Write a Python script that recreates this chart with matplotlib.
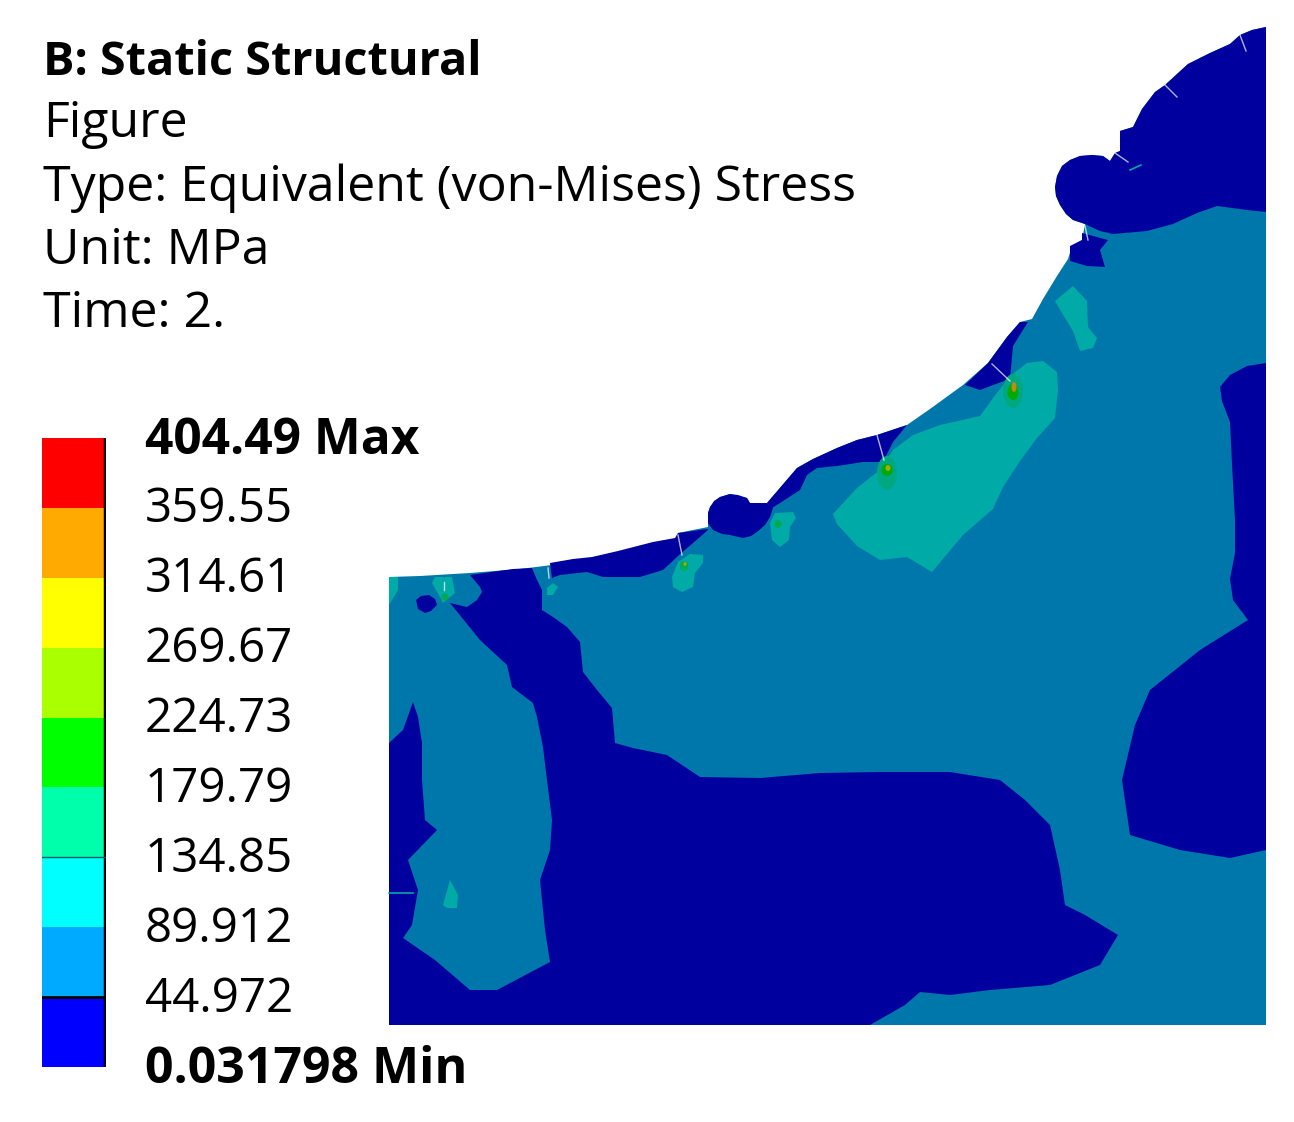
import matplotlib
matplotlib.use("Agg")
import matplotlib.pyplot as plt
from matplotlib.patches import Ellipse

plt.rcParams['font.family'] = ['Open Sans', 'DejaVu Sans']

# texts
header_bold = "B: Static Structural"
header_lines = ["Figure", "Type: Equivalent (von-Mises) Stress", "Unit: MPa", "Time: 2."]
level_labels = ["404.49 Max", "359.55", "314.61", "269.67", "224.73", "179.79",
                "134.85", "89.912", "44.972", "0.031798 Min"]
level_colors = ["#FF0000", "#FFAA00", "#FFFF00", "#AAFF00", "#00FF00",
                "#00FFAA", "#00FFFF", "#00AAFF", "#0000FF"]

# colours of the contour, dimmed like the ansys shading
c_mid = "#0077AA"
c_low = "#00009F"
c_teal = "#00AAA6"

# all shapes, in pixels
head_edge = [(1085, 224), (1073, 220), (1066, 214), (1060, 205), (1056, 196), (1055, 187),
             (1057, 176), (1062, 166), (1070, 160), (1080, 156), (1092, 155), (1103, 156),
             (1110, 161), (1115, 153), (1120, 151), (1120, 131), (1133, 127), (1142, 109),
             (1155, 92), (1165, 85), (1188, 64), (1210, 53), (1230, 44), (1240, 35), (1252, 30),
             (1266, 27)]

body = [(389, 577), (420, 576), (470, 573), (520, 569), (560, 564), (600, 557), (640, 549),
        (676, 540), (678, 533), (708, 527), (708, 513), (710, 507), (720, 497), (730, 494),
        (747, 498), (750, 503), (767, 503), (797, 468), (813, 459), (837, 448), (857, 440),
        (877, 435), (907, 425), (930, 409), (963, 385), (988, 363), (1007, 337), (1020, 322),
        (1032, 319), (1043, 299), (1057, 276), (1068, 259), (1072, 246), (1082, 240)] + head_edge + [
        (1266, 1025), (389, 1025)]

top_low = head_edge + [(1266, 212), (1247, 210), (1217, 206), (1197, 213), (1173, 224),
                       (1147, 231), (1113, 234), (1100, 231), (1087, 225)]
neck_low = [(1082, 233), (1108, 240), (1100, 250), (1105, 267), (1087, 266), (1070, 261),
            (1070, 246), (1082, 240)]
sliver_low = [(1020, 322), (1028, 322), (1013, 346), (1010, 379), (993, 385), (980, 390),
              (965, 385), (988, 363), (1007, 337)]
band_low = [(907, 425), (893, 442), (883, 462), (863, 462), (837, 466), (817, 468),
            (807, 475), (800, 490), (780, 503), (772, 508), (767, 503), (797, 468),
            (813, 459), (837, 448), (857, 440), (877, 435)]
blob_low = [(708, 513), (708, 523), (713, 530), (722, 534), (730, 535), (743, 538), (751, 536),
            (757, 532), (765, 525), (770, 517), (773, 508), (767, 503), (750, 503), (747, 498),
            (738, 495), (730, 494), (720, 497), (714, 501), (710, 507)]
left_band_low = [(708, 530), (693, 543), (679, 555), (663, 570), (640, 577), (603, 577),
                 (587, 572), (560, 575), (552, 578), (550, 563), (573, 559), (592, 557),
                 (618, 551), (653, 542), (675, 538), (678, 533), (708, 529)]
main_low = [(470, 575), (513, 569), (532, 568), (537, 580), (542, 590), (542, 610), (553, 617),
            (567, 627), (580, 642), (583, 672), (597, 690), (612, 708), (615, 743), (633, 748),
            (667, 755), (700, 777), (760, 778), (820, 773), (880, 772), (950, 772), (1000, 780),
            (1025, 800), (1050, 825), (1060, 870), (1065, 905), (1085, 915), (1118, 935),
            (1100, 965), (1050, 985), (990, 990), (950, 995), (920, 992), (905, 1005), (870, 1025),
            (389, 1025), (389, 743), (403, 730), (413, 702), (418, 717), (422, 743), (422, 780),
            (425, 820), (437, 830), (408, 860), (418, 890), (412, 925), (403, 938), (435, 960),
            (470, 990), (497, 990), (550, 962), (545, 930), (540, 880), (550, 850), (552, 820),
            (547, 780), (543, 747), (537, 717), (533, 703), (512, 687), (507, 665), (480, 640),
            (450, 603), (467, 607), (477, 600), (482, 592), (480, 587)]
right_low = [(1266, 363), (1247, 366), (1230, 375), (1220, 387), (1222, 401), (1230, 422),
             (1232, 464), (1235, 520), (1235, 553), (1230, 579), (1233, 600), (1248, 620),
             (1200, 650), (1150, 690), (1135, 725), (1122, 780), (1130, 835), (1180, 850),
             (1230, 858), (1266, 850)]
dot_low = [(416, 600), (421, 596), (429, 595), (435, 599), (437, 605), (431, 611), (425, 613),
           (418, 609)]

big_teal = [(833, 514), (857, 488), (880, 470), (893, 450), (913, 435), (940, 425), (980, 416),
            (993, 398), (1010, 376), (1027, 363), (1043, 361), (1057, 372), (1058, 390),
            (1055, 418), (1037, 438), (1020, 461), (1003, 487), (993, 509), (963, 535),
            (932, 572), (907, 557), (880, 560), (857, 546), (837, 524)]
upper_teal = [(1055, 301), (1073, 286), (1087, 301), (1088, 327), (1097, 338), (1093, 348),
              (1080, 351), (1073, 331), (1062, 313)]
teal_778 = [(770, 523), (775, 513), (793, 512), (796, 518), (790, 527), (789, 540), (780, 547),
            (772, 540)]
teal_684 = [(672, 577), (678, 562), (690, 554), (703, 555), (703, 563), (695, 573), (693, 587),
            (682, 592), (673, 587)]
teal_445 = [(432, 583), (435, 577), (452, 577), (455, 593), (443, 603), (440, 597)]
teal_550 = [(547, 588), (553, 583), (558, 587), (553, 595), (547, 595)]
teal_corner = [(389, 577), (398, 577), (398, 590), (392, 600), (389, 605)]
teal_450 = [(443, 905), (450, 880), (458, 895), (457, 908), (447, 908)]
teal_shapes = [big_teal, upper_teal, teal_778, teal_684, teal_445, teal_550, teal_corner, teal_450]

# x, y, width, height, colour
hotspots = [(1013, 391, 20, 34, "#00A882"), (887, 473, 20, 34, "#00A882"),
            (1013, 392, 11, 16, "#00AA00"), (887, 470, 11, 12, "#00AA00"),
            (1014, 387, 5, 10, "#C08A10"), (888, 468, 5, 6, "#A8A800"),
            (778, 524, 7, 8, "#00AA50"), (684, 566, 8, 10, "#00AA50"),
            (685, 564, 3, 4, "#A8A800"), (445, 597, 7, 7, "#00AA50")]

low_shapes = [top_low, neck_low, sliver_low, band_low, blob_low, left_band_low, main_low,
              right_low, dot_low]

# the white slits in the mesh
slits = [[(1240, 35), (1246, 51)], [(1165, 85), (1177, 97)], [(1115, 153), (1128, 162)],
         [(992, 364), (1010, 381)], [(877, 435), (884, 460)], [(678, 535), (682, 555)],
         [(548, 568), (549, 578)], [(444, 582), (444, 590)], [(1085, 226), (1088, 240)]]
thin_lines = [[(389, 893), (413, 893)], [(1130, 170), (1141, 165)]]

# label fonts differ a bit, the original is wider than Open Sans
header_y = [124, 188, 251, 314]
label_y = [441, 509, 579, 649, 719, 789, 859, 929, 999, 1070]
label_sizes = [35.7, 34.2, 34.2, 34.2, 34.2, 34.2, 34.2, 34.2, 34.2, 36]


def poly(ax, pts, color):
    xs = [p[0] for p in pts]
    ys = [p[1] for p in pts]
    ax.fill(xs, ys, color=color, lw=0)


fig = plt.figure(figsize=(12.94, 11.22), dpi=100)
ax = fig.add_axes([0, 0, 1, 1])
ax.set_xlim(0, 1294)
ax.set_ylim(1122, 0)
ax.axis("off")

poly(ax, body, c_mid)
for s in low_shapes:
    poly(ax, s, c_low)
for s in teal_shapes:
    poly(ax, s, c_teal)
for x, y, w, h, col in hotspots:
    ax.add_patch(Ellipse((x, y), w, h, color=col, lw=0))
for s in slits:
    ax.plot([s[0][0], s[1][0]], [s[0][1], s[1][1]], color="white", lw=1, alpha=0.7)
for s in thin_lines:
    ax.plot([s[0][0], s[1][0]], [s[0][1], s[1][1]], color=c_teal, lw=1.2)

# header
ax.text(43, 62, header_bold, fontsize=33.7, fontweight="bold", va="center", ha="left")
for y, t in zip(header_y, header_lines):
    ax.text(43, y, t, fontsize=36, va="center", ha="left")

# legend bar, in its own axes
leg = fig.add_axes([42 / 1294, 1 - 1067 / 1122, 64 / 1294, 629 / 1122])
n = len(level_colors)
for i, col in enumerate(level_colors):
    leg.bar(0, 1, bottom=n - 1 - i, width=1, color=col, align="edge", lw=0)
leg.set_xlim(0, 1)
leg.set_ylim(0, n)
leg.axis("off")
leg.axvline(0.98, color="black", lw=2.5)
leg.axhline(1, color="black", lw=2)
leg.axhline(3, color="#006060", lw=1)

for i, (y, t) in enumerate(zip(label_y, level_labels)):
    bold = i == 0 or i == len(level_labels) - 1
    ax.text(145, y, t, fontsize=label_sizes[i], va="center", ha="left",
            fontweight="bold" if bold else "normal")

fig.savefig("out.png", dpi=100)
